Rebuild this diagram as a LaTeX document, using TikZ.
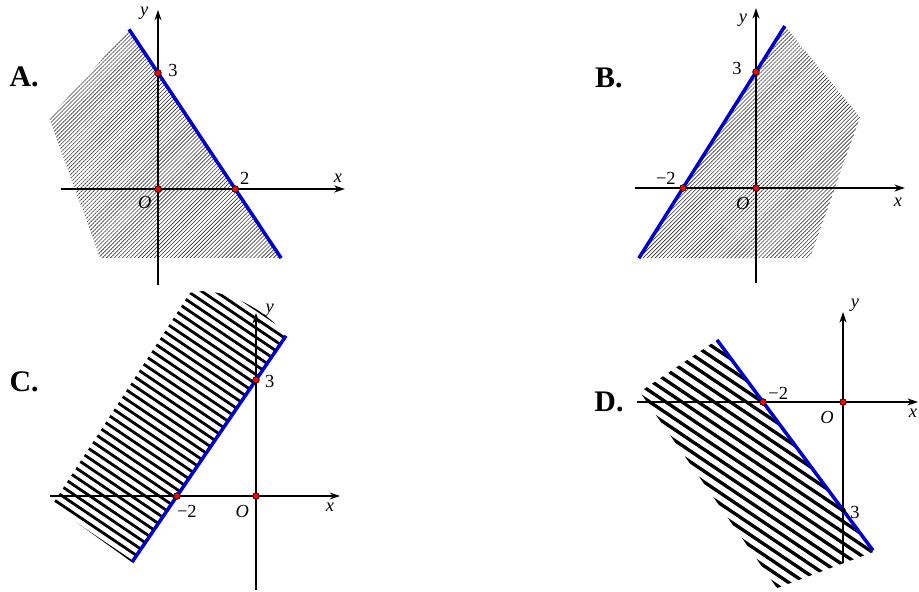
\documentclass[tikz,border=0pt]{standalone}
\usepackage{fontspec}
\setmainfont{Liberation Serif}
\usetikzlibrary{arrows.meta,patterns.meta}

\begin{document}
\begin{tikzpicture}[font=\fontsize{10.5}{12}\selectfont,
  axis/.style={line width=0.8pt, -{Stealth[length=6pt,width=4pt]}},
  bline/.style={draw=blue!80!black, line width=2pt},
  dot/.style={circle, fill=red, draw=black, line width=0.4pt, inner sep=0pt, minimum size=3.8pt},
  lbl/.style={inner sep=0pt},
  panel/.style={font=\fontsize{17}{19}\selectfont\bfseries, inner sep=0pt},
  fine/.style={pattern={Lines[angle=45,distance=1.6pt,line width=0.35pt]}, pattern color=black!80},
  stripeC/.style={line width=1.6pt, black},
  stripeD/.style={line width=1.9pt, black},
]
\useasboundingbox (0,0) rectangle (18.38,11.82);

% --- A ---
\begin{scope}[shift={(3.16,8.04)}, x=0.772cm, y=0.774cm]
  \fill[fine] (-0.75,4.125) -- (-2.82,1.83) -- (-1.50,-1.78) -- (3.19,-1.78) -- cycle;
  \coordinate (Axl) at (-2.51,0); \coordinate (Axr) at (4.84,0);
  \coordinate (Ayb) at (0,-2.48); \coordinate (Ayt) at (0,4.63);
  \draw[axis] (Axl) -- (Axr);
  \draw[axis] (Ayb) -- (Ayt);
  \coordinate (Ap) at (-0.75,4.125); \coordinate (Aq) at (3.19,-1.785);
  \draw[bline] (Ap) -- (Aq);
  \node[dot] (A0) at (0,0) {};
  \node[dot] (A3) at (0,3) {};
  \node[dot] (A2) at (2,0) {};
  \node[lbl] (Ay) at (-0.36,4.55) {\textit{y}};
  \node[lbl] (Ax) at (4.66,0.28) {\textit{x}};
  \node[lbl] (AO) at (-0.34,-0.36) {\textit{O}};
  \node[lbl] (At3) at (0.39,3.07) {3};
  \node[lbl] (At2) at (2.25,0.28) {2};
  \node[panel] (labA) at (-3.47,2.89) {A.};
\end{scope}

% --- B ---
\begin{scope}[shift={(15.12,8.06)}, x=0.73cm, y=0.774cm]
  \fill[fine] (0.79,4.185) -- (2.85,1.83) -- (1.48,-1.81) -- (-3.21,-1.81) -- cycle;
  \coordinate (Bxl) at (-3.32,0); \coordinate (Bxr) at (4.08,0);
  \coordinate (Byb) at (0,-2.45); \coordinate (Byt) at (0,4.65);
  \draw[axis] (Bxl) -- (Bxr);
  \draw[axis] (Byb) -- (Byt);
  \coordinate (Bp) at (-3.21,-1.815); \coordinate (Bq) at (0.79,4.185);
  \draw[bline] (Bp) -- (Bq);
  \node[dot] (B0) at (0,0) {};
  \node[dot] (B3) at (0,3) {};
  \node[dot] (B2) at (-2,0) {};
  \node[lbl] (By) at (-0.36,4.34) {\textit{y}};
  \node[lbl] (Bx) at (3.89,-0.36) {\textit{x}};
  \node[lbl] (BO) at (-0.36,-0.39) {\textit{O}};
  \node[lbl] (Bt3) at (-0.52,3.10) {3};
  \node[lbl] (Bt2) at (-2.47,0.26) {−2};
  \node[panel] (labB) at (-4.03,2.84) {B.};
\end{scope}

% --- C ---
\begin{scope}[shift={(5.12,1.90)}, x=0.79cm, y=0.774cm]
  \begin{scope}
    \clip (-3.14,-1.71) -- (-5.16,-0.23) -- (-1.67,5.25)
      .. controls (-1.0,5.45) and (0.2,4.9) .. (0.76,4.14) -- cycle;
    \begin{scope}[rotate=-34]
      \foreach \k in {-40,...,40}
        \draw[stripeC] (-9,\k*0.2) -- (9,\k*0.2);
    \end{scope}
  \end{scope}
  \coordinate (Cxl) at (-5.22,0); \coordinate (Cxr) at (2.13,0);
  \coordinate (Cyb) at (0,-2.43); \coordinate (Cyt) at (0,4.73);
  \draw[axis] (Cxl) -- (Cxr);
  \draw[axis] (Cyb) -- (Cyt);
  \coordinate (Cp) at (-3.14,-1.71); \coordinate (Cq) at (0.76,4.14);
  \draw[bline] (Cp) -- (Cq);
  \node[dot] (C0) at (0,0) {};
  \node[dot] (C3) at (0,3) {};
  \node[dot] (C2) at (-2,0) {};
  \node[lbl] (Cy) at (0.35,4.81) {\textit{y}};
  \node[lbl] (Cx) at (1.87,-0.28) {\textit{x}};
  \node[lbl] (CO) at (-0.35,-0.41) {\textit{O}};
  \node[lbl] (Ct3) at (0.35,2.95) {3};
  \node[lbl] (Ct2) at (-1.75,-0.41) {−2};
  \node[panel] (labC) at (-5.87,2.95) {C.};
\end{scope}

% --- D ---
\begin{scope}[shift={(16.86,3.78)}, x=0.80cm, y=0.72cm]
  \begin{scope}
    \clip (-3.15,1.725) -- (-5.08,0.28) -- (-1.65,-5.17) -- (0.75,-4.17) -- cycle;
    \begin{scope}[rotate=-34]
      \foreach \k in {-30,...,30}
        \draw[stripeD] (-9,\k*0.25) -- (9,\k*0.25);
    \end{scope}
  \end{scope}
  \coordinate (Dxl) at (-5.15,0); \coordinate (Dxr) at (1.875,0);
  \coordinate (Dyb) at (0,-4.47); \coordinate (Dyt) at (0,2.5);
  \draw[axis] (Dxl) -- (Dxr);
  \draw[axis] (Dyb) -- (Dyt);
  \coordinate (Dp) at (-3.15,1.725); \coordinate (Dq) at (0.75,-4.125);
  \draw[bline] (Dp) -- (Dq);
  \node[dot] (D0) at (0,0) {};
  \node[dot] (D2) at (-2,0) {};
  \node[dot, fill=black, minimum size=2.6pt] (D3) at (0,-3) {};
  \node[lbl] (Dy) at (0.3,2.69) {\textit{y}};
  \node[lbl] (Dx) at (1.75,-0.31) {\textit{x}};
  \node[lbl] (DO) at (-0.4,-0.42) {\textit{O}};
  \node[lbl] (Dt3) at (0.3,-3.06) {3};
  \node[lbl] (Dt2) at (-1.62,0.25) {−2};
  \node[panel] (labD) at (-5.85,0) {D.};
\end{scope}
\end{tikzpicture}
\end{document}
